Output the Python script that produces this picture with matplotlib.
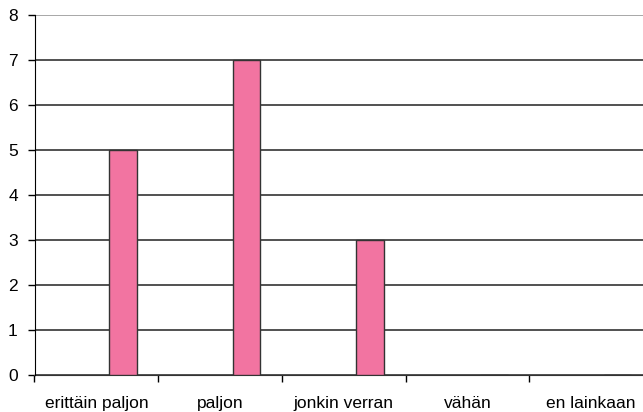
import matplotlib.pyplot as plt
import numpy as np

plt.rcParams['font.family'] = ['Liberation Sans', 'DejaVu Sans']

categories = ['erittäin paljon', 'paljon', 'jonkin verran', 'vähän', 'en lainkaan']
values = [5, 7, 3, 0, 0]
yticks = [0, 1, 2, 3, 4, 5, 6, 7, 8]

W, H = 643, 412
fig = plt.figure(figsize=(W / 100, H / 100), dpi=100)
# plot area is cropped on the right side in the original
ax = fig.add_axes([34.5 / W, 37 / H, (653 - 34.5) / W, (375 - 15) / H])

x = np.arange(len(categories))
ax.bar(x + 0.214, values, width=0.222, color='#F274A1', edgecolor='#333333',
       linewidth=1, zorder=3)

for v in yticks[:-1]:
    ax.axhline(v, color='#333333', linewidth=1.2, zorder=1)
ax.axhline(8, color='#a0a0a0', linewidth=1.3, zorder=1)

ax.set_xlim(-0.5, len(categories) - 0.5)
ax.set_ylim(0, 8)
ax.set_yticks(yticks)
ax.set_xticks(x)
ax.set_xticklabels(categories)
ax.set_xticks(np.arange(-0.5, len(categories), 1), minor=True)

for s in ['top', 'right']:
    ax.spines[s].set_visible(False)
ax.spines['left'].set_color('black')
ax.spines['bottom'].set_color('#333333')
ax.spines['left'].set_zorder(4)

ax.tick_params(axis='y', direction='out', length=5, width=1, pad=7, labelsize=12.5, colors='black')
ax.tick_params(axis='x', which='major', length=0, pad=15, labelsize=12.5, colors='black')
ax.tick_params(axis='x', which='minor', direction='out', length=5, width=1, color='black')

fig.savefig('out.png', dpi=100)
